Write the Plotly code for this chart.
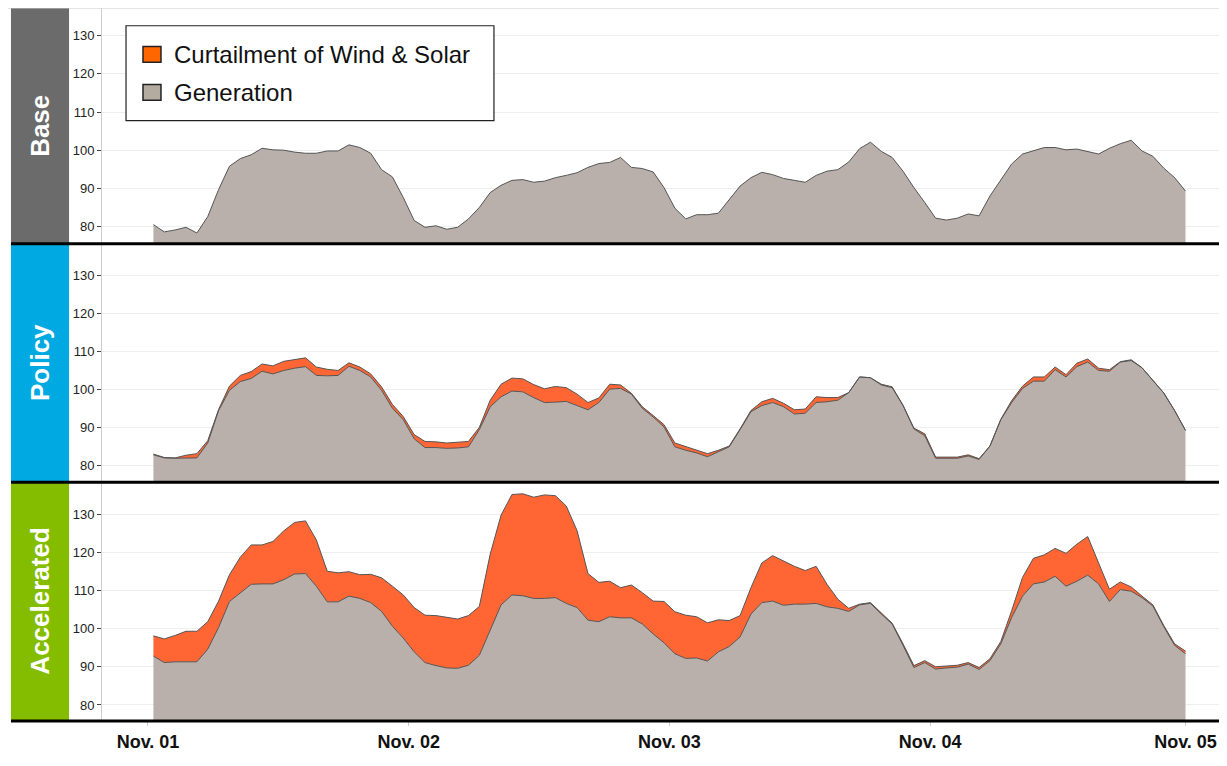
import pandas as pd
import plotly.graph_objects as go
from plotly.subplots import make_subplots

# hourly values, Nov 01 - Nov 04
hours = pd.date_range("2013-11-01 00:30", periods=96, freq="h")

base_gen = [80.5, 78.6, 79.1, 79.8, 78.3, 82.6, 89.7, 95.8, 97.8, 98.8,
            100.5, 100.1, 100.0, 99.5, 99.2, 99.2, 99.8, 99.8, 101.4, 100.7,
            99.2, 94.9, 93.0, 87.6, 81.6, 79.8, 80.2, 79.3, 79.8, 82.0,
            85.0, 88.9, 90.8, 92.1, 92.3, 91.6, 91.9, 92.8, 93.4, 94.1,
            95.5, 96.5, 96.8, 98.1, 95.5, 95.2, 94.3, 90.2, 84.8, 82.0,
            83.1, 83.1, 83.5, 87.2, 90.6, 92.8, 94.2, 93.6, 92.6, 92.1,
            91.6, 93.4, 94.5, 94.9, 96.9, 100.4, 102.1, 99.7, 98.1, 94.5,
            90.2, 86.3, 82.2, 81.7, 82.2, 83.3, 82.8, 88.0, 92.3, 96.4,
            99.0, 99.8, 100.7, 100.7, 100.1, 100.3, 99.7, 99.0, 100.5, 101.7,
            102.6, 99.8, 98.4, 95.3, 92.8, 89.3]

policy_gen = [82.9, 82.1, 82.0, 82.1, 82.1, 86.0, 94.5, 99.8, 102.1, 102.9,
              104.8, 104.1, 105.0, 105.6, 106.0, 103.7, 103.6, 103.7, 106.1, 105.0,
              103.3, 99.8, 95.1, 92.1, 87.1, 84.8, 84.8, 84.6, 84.7, 85.0,
              89.5, 95.5, 98.1, 99.6, 99.4, 97.9, 96.6, 96.7, 96.9, 95.8,
              94.7, 96.6, 100.1, 100.3, 98.8, 95.1, 92.8, 90.2, 85.0, 84.1,
              83.4, 82.4, 83.6, 85.0, 89.5, 94.2, 95.8, 96.6, 95.5, 93.6,
              93.8, 96.6, 96.8, 97.2, 99.2, 103.3, 103.1, 101.2, 100.5, 95.8,
              89.7, 87.9, 82.0, 82.0, 82.0, 82.6, 81.7, 85.2, 92.1, 96.6,
              100.3, 102.2, 102.2, 105.2, 103.3, 106.0, 107.2, 105.0, 104.8, 107.2,
              107.6, 105.7, 102.4, 99.1, 94.5, 89.3]

policy_total = [83.1, 82.2, 82.1, 82.8, 83.2, 86.6, 94.8, 100.9, 103.7, 104.7,
                106.7, 106.2, 107.4, 107.8, 108.3, 105.9, 105.3, 105.0, 107.0, 105.9,
                104.1, 100.7, 96.1, 92.9, 88.2, 86.4, 86.3, 86.0, 86.2, 86.4,
                90.1, 97.2, 101.4, 103.0, 102.8, 101.3, 100.2, 100.8, 100.5, 98.8,
                96.6, 97.8, 101.4, 101.2, 99.0, 95.5, 93.2, 90.8, 86.0, 85.0,
                84.1, 83.2, 84.1, 85.2, 89.7, 94.5, 96.8, 97.7, 96.4, 94.7,
                94.9, 98.1, 97.9, 97.9, 99.2, 103.3, 103.1, 101.4, 100.7, 95.9,
                89.9, 88.4, 82.3, 82.3, 82.3, 82.9, 81.9, 85.2, 92.2, 97.1,
                100.9, 103.3, 103.3, 105.9, 103.9, 106.9, 108.0, 105.6, 105.2, 107.3,
                107.8, 105.7, 102.4, 99.1, 94.5, 89.3]

accel_gen = [92.8, 91.1, 91.3, 91.3, 91.3, 94.6, 100.3, 107.1, 109.4, 111.6,
             111.7, 111.7, 112.8, 114.3, 114.4, 111.1, 107.0, 107.0, 108.5, 107.9,
             106.8, 104.5, 100.6, 97.5, 93.9, 91.1, 90.3, 89.7, 89.6, 90.4,
             93.0, 99.5, 106.2, 108.8, 108.6, 107.9, 107.9, 108.1, 106.6, 105.5,
             102.2, 101.8, 103.1, 102.8, 102.8, 101.2, 98.6, 96.3, 93.4, 92.2,
             92.3, 91.5, 93.9, 95.3, 97.8, 103.8, 106.8, 107.2, 106.1, 106.4,
             106.4, 106.6, 105.7, 105.3, 104.5, 106.2, 106.6, 103.8, 101.2, 95.6,
             89.8, 91.1, 89.4, 89.7, 89.9, 90.7, 89.3, 91.6, 96.0, 102.9,
             108.5, 111.7, 112.2, 113.7, 111.1, 112.4, 114.0, 111.7, 107.1, 110.2,
             109.8, 108.1, 105.9, 100.5, 95.6, 93.4]

accel_total = [98.1, 97.3, 98.2, 99.3, 99.3, 101.8, 107.2, 114.1, 118.7, 121.9,
               121.9, 122.8, 125.6, 127.8, 128.2, 123.2, 115.0, 114.6, 114.9, 114.1,
               114.2, 113.3, 111.1, 108.8, 105.5, 103.5, 103.4, 102.9, 102.5, 103.4,
               105.8, 119.5, 129.7, 135.1, 135.3, 134.4, 135.0, 134.8, 132.1, 125.6,
               114.4, 112.1, 112.4, 110.7, 111.4, 109.4, 107.2, 107.1, 104.4, 103.5,
               103.1, 101.5, 102.3, 102.1, 103.4, 110.7, 117.2, 119.1, 117.6, 116.3,
               115.2, 116.3, 111.6, 107.7, 105.3, 106.4, 106.8, 104.0, 101.4, 96.0,
               90.3, 91.6, 90.0, 90.2, 90.4, 91.1, 89.8, 92.1, 96.6, 104.7,
               113.4, 118.4, 119.3, 121.0, 119.7, 122.1, 124.1, 117.2, 110.3, 112.2,
               110.9, 108.5, 106.2, 100.8, 96.0, 94.1]

scenarios = ["Base", "Policy", "Accelerated"]
strip_colors = ["#6b6b6b", "#00a9e2", "#84bc00"]
y_ranges = [[75.5, 137.25], [75.7, 138.2], [75.8, 138.3]]
day_ticks = pd.date_range("2013-11-01", periods=5, freq="D")
day_labels = [d.strftime("%b. %d") for d in day_ticks]
# last label nudged left a little so it stays inside the page
tick_pos = list(day_ticks[:-1]) + [day_ticks[-1] - pd.Timedelta(minutes=30)]

GEN_FILL = "#b9b0ab"
CURT_FILL = "#ff6633"
OUTLINE = "#555555"
FONT = "Liberation Sans, Arial, sans-serif"

fig = make_subplots(rows=3, cols=1, shared_xaxes=True, vertical_spacing=0,
                    row_heights=[238.7, 241.6, 241.7])

panels = [(base_gen, None), (policy_gen, policy_total), (accel_gen, accel_total)]
for i, (gen, total) in enumerate(panels, start=1):
    fig.add_trace(go.Scatter(x=hours, y=gen, mode="lines", fill="tozeroy",
                             fillcolor=GEN_FILL, line=dict(color=OUTLINE, width=1),
                             name="Generation", showlegend=False), row=i, col=1)
    if total is not None:
        fig.add_trace(go.Scatter(x=hours, y=total, mode="lines", fill="tonexty",
                                 fillcolor=CURT_FILL, line=dict(color=OUTLINE, width=1),
                                 name="Curtailment of Wind & Solar", showlegend=False),
                      row=i, col=1)
    fig.update_yaxes(range=y_ranges[i - 1], row=i, col=1)

fig.update_yaxes(tickvals=[80, 90, 100, 110, 120, 130],
                 showgrid=True, gridcolor="#eeeeee", zeroline=False,
                 showline=True, linecolor="#cccccc", linewidth=1,
                 ticks="outside", ticklen=4, tickcolor="#444444",
                 tickfont=dict(family=FONT, size=13, color="#222222"))
fig.update_xaxes(type="date", range=["2013-10-31 19:46", "2013-11-05 02:35"],
                 showgrid=False, zeroline=False, showline=False,
                 tickvals=tick_pos, ticktext=day_labels, ticklabeloverflow="allow",
                 ticks="", tickfont=dict(family=FONT, size=18, color="#111111", weight="bold"))
fig.update_xaxes(ticks="outside", ticklen=4, tickcolor="#cccccc", row=3, col=1)

# panel boundaries in paper coords (top to bottom: Base, Policy, Accelerated)
bounds = [1.0, 0.6694, 0.3348, 0.0]
shapes = []
annotations = []
sx0, sx1 = -0.0815, -0.0295
for k, (name, color) in enumerate(zip(scenarios, strip_colors)):
    y1 = bounds[k]
    y0 = bounds[k + 1]
    shapes.append(dict(type="rect", xref="paper", yref="paper", x0=sx0, x1=sx1,
                       y0=y0, y1=y1, fillcolor=color, line=dict(width=0), layer="below"))
    shapes.append(dict(type="line", xref="paper", yref="paper", x0=sx0, x1=1,
                       y0=y0, y1=y0, line=dict(color="black", width=3), layer="above"))
    annotations.append(dict(text="<b>%s</b>" % name, xref="paper", yref="paper",
                            x=(sx0 + sx1) / 2, y=(y0 + y1) / 2, textangle=-90,
                            showarrow=False, xanchor="center", yanchor="middle",
                            font=dict(family=FONT, size=26, color="white")))

shapes.append(dict(type="line", xref="paper", yref="paper", x0=-0.0842, x1=1,
                   y0=1, y1=1, line=dict(color="#cccccc", width=1)))

# legend box
shapes.append(dict(type="rect", xref="paper", yref="paper", x0=0.0215, x1=0.3509,
                   y0=0.8421, y1=0.9751, fillcolor="white",
                   line=dict(color="#222222", width=1.2), layer="above"))
legend_items = [("Curtailment of Wind & Solar", "#ff6600", 0.9349),
                ("Generation", "#b3aba0", 0.8816)]
for label, color, ly in legend_items:
    shapes.append(dict(type="rect", xref="paper", yref="paper", x0=0.0367, x1=0.0528,
                       y0=ly - 0.0111, y1=ly + 0.0111, fillcolor=color,
                       line=dict(color="#222222", width=1.5), layer="above"))
    annotations.append(dict(text=label, xref="paper", yref="paper", x=0.0627, y=ly,
                            xanchor="left", yanchor="middle", showarrow=False,
                            font=dict(family=FONT, size=24, color="#111111")))

fig.update_layout(width=1211, height=744, margin=dict(l=94, r=0, t=0, b=22),
                  paper_bgcolor="white", plot_bgcolor="white", showlegend=False,
                  shapes=shapes, annotations=annotations)

fig.write_html("out.html")
